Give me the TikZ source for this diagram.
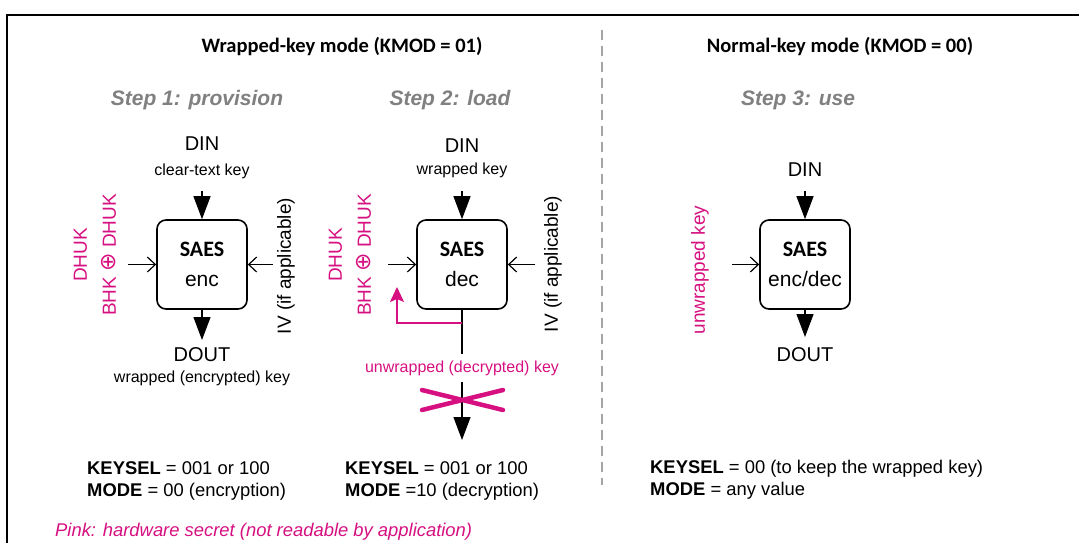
\documentclass[tikz,border=0pt]{standalone}
\usepackage{fontspec}
\setmainfont{Liberation Sans}
\newfontfamily\calibri{Carlito}
\newfontfamily\dejavu{DejaVu Sans}
\usetikzlibrary{arrows.meta, positioning}
\definecolor{hwpink}{RGB}{214,16,128}
\definecolor{stepgray}{RGB}{128,128,128}
\definecolor{sepgray}{RGB}{165,165,165}
\tikzset{
  saes/.style={draw, line width=1.6pt, rounded corners=9pt, minimum width=90pt,
    minimum height=89pt, align=center, inner sep=0pt, font=\fontsize{21}{30}\selectfont},
  bigarrow/.style={line width=1.2pt, -{Triangle[length=23pt,width=17pt]}},
  sidearrow/.style={line width=1.2pt, -{Straight Barb[length=8pt,width=15pt]}},
  keyarrow/.style={hwpink, line width=1.5pt, -{Stealth[length=15pt,width=14pt,inset=3pt]}},
  steptitle/.style={text=stepgray, font=\fontsize{21}{25}\selectfont\bfseries\itshape},
  modetitle/.style={font=\calibri\fontsize{20.5}{24}\selectfont\bfseries},
  sig/.style={font=\fontsize{20}{24}\selectfont},
  sublabel/.style={font=\fontsize{16}{19}\selectfont},
  sidelabel/.style={rotate=90, align=center, font=\fontsize{19}{29}\selectfont},
  regs/.style={font=\fontsize{18.4}{22}\selectfont, align=left, anchor=west, inner sep=0pt},
}
\newcommand{\saestext}[1]{{\calibri\fontsize{22}{26}\selectfont\bfseries SAES}\\#1}
\newcommand{\xorsym}{{\dejavu\fontsize{22}{29}\selectfont ⊕}}

\begin{document}
\begin{tikzpicture}[x=1pt,y=-1pt]
  \useasboundingbox (0,0) rectangle (1079,542);
  \clip (0,0) rectangle (1079,542);

  % frame and separator
  \draw[line width=2pt] (7,560) -- (7,15) -- (1100,15);
  \draw[sepgray, line width=1.5pt, dash pattern=on 10pt off 6pt] (602,30) -- (602,485);

  \node[modetitle] (wrapmode) at (342,46) {Wrapped-key mode (KMOD = 01)};
  \node[modetitle] (normmode) at (840,46) {Normal-key mode (KMOD = 00)};

  \node[steptitle] (step1) at (197,100) {Step 1: provision};
  \node[steptitle] (step2) at (450,100) {Step 2: load};
  \node[steptitle] (step3) at (798,100) {Step 3: use};

  % step 1
  \node[saes] (enc) at (202,264.5) {\saestext{enc}};
  \node[sig] (din1) at (202,144) {DIN};
  \node[sublabel] (clear) at (202,171) {clear-text key};
  \coordinate (in1) at (202,191);
  \draw[bigarrow] (in1) -- (enc.north);
  \coordinate (out1) at (202,340);
  \draw[bigarrow] (enc.south) -- (out1);
  \node[sig] (dout1) at (202,355) {DOUT};
  \node[sublabel] (wrapped1) at (202,378) {wrapped (encrypted) key};
  \coordinate (k1) at (128,264.5);
  \coordinate (iv1) at (273,264.5);
  \draw[sidearrow] (k1) -- (enc.west);
  \draw[sidearrow] (iv1) -- (enc.east);
  \node[sidelabel, text=hwpink] (hk1) at (95,255) {DHUK\\BHK \xorsym{} DHUK};
  \node[sidelabel] (ivl1) at (286,266) {IV (if applicable)};

  % step 2
  \node[saes] (dec) at (462,264.5) {\saestext{dec}};
  \node[sig] (din2) at (462,146) {DIN};
  \node[sublabel] (wrapped2) at (462,170) {wrapped key};
  \coordinate (in2) at (462,191);
  \draw[bigarrow] (in2) -- (dec.north);
  \coordinate (k2) at (388,264.5);
  \coordinate (iv2) at (535,264.5);
  \draw[sidearrow] (k2) -- (dec.west);
  \draw[sidearrow] (iv2) -- (dec.east);
  \node[sidelabel, text=hwpink] (hk2) at (350,255) {DHUK\\BHK \xorsym{} DHUK};
  \node[sidelabel] (ivl2) at (553,264) {IV (if applicable)};
  \node[sublabel, text=hwpink, inner sep=6pt] (unwrap) at (462,368) {unwrapped (decrypted) key};
  \draw[line width=1.2pt] (dec.south) -- (unwrap.north);
  \coordinate (tap) at (462,323);
  \coordinate (fbtip) at (397,287);
  \draw[keyarrow] (tap) -| (fbtip);
  \coordinate (out2) at (462,440);
  \draw[bigarrow] (unwrap.south) -- (out2);
  \draw[hwpink, line width=4.5pt, line cap=round] (422,390) -- (503,410) (422,410) -- (503,390);

  % step 3
  \node[saes] (encdec) at (805,264.5) {\saestext{enc/dec}};
  \node[sig] (din3) at (805,170) {DIN};
  \coordinate (in3) at (805,191);
  \draw[bigarrow] (in3) -- (encdec.north);
  \coordinate (out3) at (805,337);
  \draw[bigarrow] (encdec.south) -- (out3);
  \node[sig] (dout3) at (805,355) {DOUT};
  \coordinate (k3) at (732,264.5);
  \draw[sidearrow] (k3) -- (encdec.west);
  \node[sidelabel, text=hwpink] (uk3) at (700,270) {unwrapped key};

  % register settings
  \node[regs] (regs1) at (87,481) {\textbf{KEYSEL} = 001 or 100\\\textbf{MODE} = 00 (encryption)};
  \node[regs] (regs2) at (345,481) {\textbf{KEYSEL} = 001 or 100\\\textbf{MODE} =10 (decryption)};
  \node[regs] (regs3) at (650,480) {\textbf{KEYSEL} = 00 (to keep the wrapped key)\\\textbf{MODE} = any value};

  \node[regs, text=hwpink, font=\fontsize{18.4}{22}\selectfont\itshape] (note) at (55,532)
    {Pink: hardware secret (not readable by application)};
\end{tikzpicture}
\end{document}
